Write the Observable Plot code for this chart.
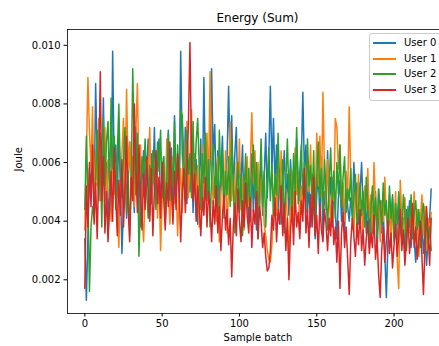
<!DOCTYPE html>
<html><head><meta charset="utf-8">
<script src="https://cdn.jsdelivr.net/npm/d3@7"></script>
<script src="https://cdn.jsdelivr.net/npm/@observablehq/plot@0.6"></script>
<style>
html,body{margin:0;padding:0;overflow:hidden;background:#fff;}
body{font-family:"DejaVu Sans",sans-serif;color:#000;}
#wrap{position:relative;width:448px;height:346px;}
#title{box-sizing:border-box;height:25px;padding:11px 0 0 67px;font-size:12px;line-height:14px;text-align:center;white-space:nowrap;}
#chart svg{display:block;overflow:visible;}
#legend{position:absolute;left:369px;top:33px;width:74px;height:68px;box-sizing:border-box;border:1px solid #cccccc;border-radius:3px;background:rgba(255,255,255,0.8);}
.row{position:absolute;left:3px;height:14px;font-size:10px;line-height:14px;white-space:nowrap;}
.sw{position:absolute;left:0;top:6px;width:23px;height:2px;}
.lab{position:absolute;left:31px;top:0;}
</style></head><body>
<div id="wrap">
<div id="title">Energy (Sum)</div>
<div id="chart"></div>
<div id="legend"></div>
</div>
<script>
const users = ["User 0", "User 1", "User 2", "User 3"];
const colors = ["#1f77b4", "#ff7f0e", "#2ca02c", "#d62728"];
const xTicks = [0, 50, 100, 150, 200];
const yTicks = [0.002, 0.004, 0.006, 0.008, 0.010];

const user0 = [
.0034,.0013,.0035,.0058,.0052,.0061,.0045,.0087,.0062,.0049,.0070,.0055,.0082,.0047,.0060,
.0039,.0052,.0044,.0098,.0058,.0066,.0048,.0071,.0053,.0029,.0045,.0062,.0041,.0055,.0067,
.0050,.0058,.0043,.0072,.0049,.0061,.0038,.0054,.0064,.0046,.0058,.0068,.0042,.0063,.0053,
.0072,.0047,.0059,.0068,.0044,.0057,.0062,.0039,.0050,.0071,.0048,.0065,.0041,.0076,.0052,
.0060,.0045,.0098,.0063,.0052,.0072,.0046,.0058,.0050,.0066,.0043,.0056,.0061,.0039,.0052,
.0068,.0047,.0089,.0056,.0065,.0048,.0059,.0092,.0061,.0073,.0050,.0064,.0044,.0057,.0069,
.0046,.0055,.0062,.0086,.0058,.0076,.0049,.0063,.0072,.0045,.0060,.0053,.0066,.0041,.0056,
.0049,.0040,.0054,.0063,.0043,.0058,.0037,.0052,.0046,.0060,.0042,.0055,.0070,.0048,.0062,
.0086,.0057,.0075,.0052,.0066,.0044,.0058,.0039,.0053,.0064,.0047,.0056,.0042,.0061,.0050,
.0057,.0045,.0068,.0054,.0047,.0060,.0084,.0057,.0066,.0043,.0052,.0038,.0056,.0045,.0034,
.0049,.0056,.0041,.0062,.0035,.0050,.0044,.0064,.0047,.0055,.0038,.0051,.0043,.0034,.0048,
.0054,.0040,.0049,.0036,.0052,.0045,.0040,.0048,.0042,.0060,.0046,.0053,.0039,.0050,.0060,
.0044,.0051,.0036,.0047,.0041,.0033,.0045,.0038,.0050,.0031,.0042,.0047,.0036,.0044,.0029,
.0014,.0032,.0044,.0037,.0049,.0034,.0042,.0030,.0046,.0038,.0033,.0041,.0028,.0044,.0036,
.0047,.0031,.0040,.0034,.0026,.0038,.0043,.0032,.0039,.0029,.0036,.0025,.0034,.0041,.0051];

const user1 = [
.0037,.0062,.0089,.0071,.0058,.0079,.0045,.0064,.0052,.0075,.0047,.0068,.0056,.0072,.0043,
.0061,.0053,.0040,.0066,.0049,.0058,.0044,.0031,.0052,.0063,.0075,.0048,.0085,.0057,.0067,
.0050,.0062,.0045,.0070,.0087,.0054,.0066,.0042,.0033,.0049,.0061,.0055,.0072,.0046,.0058,
.0052,.0064,.0041,.0055,.0030,.0047,.0059,.0044,.0068,.0051,.0039,.0056,.0062,.0046,.0053,
.0035,.0049,.0058,.0043,.0067,.0052,.0074,.0048,.0060,.0078,.0054,.0063,.0045,.0059,.0038,
.0051,.0066,.0044,.0057,.0070,.0052,.0091,.0061,.0046,.0055,.0040,.0062,.0033,.0049,.0058,
.0043,.0064,.0036,.0052,.0074,.0047,.0056,.0041,.0060,.0050,.0068,.0044,.0055,.0037,.0051,
.0062,.0045,.0058,.0077,.0053,.0064,.0048,.0060,.0042,.0055,.0050,.0039,.0035,.0030,.0027,
.0026,.0032,.0045,.0056,.0042,.0060,.0048,.0064,.0053,.0038,.0051,.0041,.0027,.0046,.0057,
.0040,.0065,.0049,.0056,.0036,.0052,.0043,.0058,.0047,.0062,.0050,.0066,.0042,.0055,.0046,
.0070,.0052,.0069,.0048,.0084,.0057,.0044,.0061,.0050,.0038,.0055,.0047,.0075,.0072,.0058,
.0066,.0045,.0053,.0040,.0057,.0048,.0079,.0054,.0046,.0036,.0050,.0043,.0056,.0039,.0047,
.0034,.0052,.0044,.0058,.0041,.0049,.0036,.0060,.0045,.0038,.0051,.0033,.0047,.0040,.0055,
.0042,.0036,.0049,.0031,.0045,.0038,.0050,.0027,.0017,.0054,.0041,.0034,.0048,.0030,.0043,
.0036,.0047,.0039,.0050,.0033,.0044,.0028,.0040,.0049,.0035,.0045,.0030,.0041,.0036,.0043];

const user2 = [
.0044,.0069,.0050,.0016,.0038,.0045,.0041,.0055,.0071,.0047,.0062,.0038,.0075,.0052,.0067,
.0074,.0049,.0082,.0058,.0069,.0044,.0063,.0080,.0055,.0048,.0061,.0072,.0043,.0057,.0035,
.0052,.0092,.0064,.0049,.0070,.0028,.0047,.0062,.0055,.0068,.0050,.0041,.0059,.0046,.0064,
.0052,.0044,.0067,.0057,.0071,.0048,.0062,.0043,.0054,.0070,.0047,.0060,.0052,.0074,.0049,
.0066,.0054,.0078,.0076,.0062,.0047,.0071,.0056,.0063,.0048,.0074,.0052,.0067,.0075,.0058,
.0044,.0063,.0053,.0070,.0047,.0061,.0038,.0055,.0066,.0048,.0059,.0043,.0071,.0052,.0064,
.0041,.0057,.0049,.0062,.0045,.0068,.0054,.0036,.0051,.0060,.0043,.0056,.0035,.0050,.0063,
.0045,.0058,.0040,.0054,.0066,.0048,.0060,.0034,.0052,.0068,.0045,.0057,.0038,.0053,.0065,
.0047,.0059,.0042,.0056,.0049,.0070,.0052,.0044,.0061,.0036,.0054,.0068,.0048,.0058,.0041,
.0063,.0050,.0072,.0046,.0057,.0066,.0049,.0060,.0043,.0068,.0052,.0059,.0046,.0064,.0040,
.0055,.0067,.0048,.0058,.0044,.0061,.0050,.0037,.0053,.0065,.0047,.0057,.0041,.0060,.0049,
.0066,.0045,.0055,.0062,.0043,.0051,.0047,.0058,.0040,.0049,.0056,.0036,.0045,.0053,.0042,
.0050,.0038,.0055,.0046,.0031,.0044,.0052,.0040,.0048,.0035,.0051,.0045,.0039,.0053,.0042,
.0047,.0036,.0052,.0041,.0048,.0033,.0046,.0039,.0050,.0042,.0035,.0049,.0043,.0030,.0045,
.0038,.0049,.0034,.0043,.0047,.0037,.0044,.0031,.0042,.0046,.0035,.0040,.0032,.0038,.0030];

const user3 = [
.0017,.0052,.0038,.0060,.0045,.0066,.0039,.0053,.0034,.0058,.0091,.0047,.0062,.0036,.0050,
.0033,.0044,.0057,.0040,.0065,.0048,.0035,.0054,.0042,.0061,.0038,.0052,.0069,.0045,.0033,
.0055,.0047,.0080,.0059,.0043,.0066,.0050,.0037,.0056,.0044,.0062,.0049,.0040,.0058,.0035,
.0051,.0064,.0046,.0055,.0041,.0060,.0048,.0037,.0053,.0045,.0067,.0050,.0039,.0057,.0044,
.0063,.0052,.0033,.0049,.0058,.0043,.0055,.0074,.0101,.0062,.0047,.0056,.0040,.0052,.0045,
.0035,.0048,.0042,.0055,.0038,.0050,.0044,.0033,.0047,.0039,.0052,.0036,.0045,.0030,.0042,
.0049,.0037,.0044,.0032,.0041,.0021,.0038,.0046,.0035,.0051,.0040,.0033,.0047,.0038,.0053,
.0042,.0036,.0048,.0031,.0044,.0039,.0050,.0034,.0045,.0040,.0031,.0036,.0028,.0023,.0024,
.0030,.0042,.0037,.0048,.0033,.0044,.0039,.0052,.0035,.0046,.0030,.0041,.0020,.0036,.0045,
.0032,.0050,.0038,.0043,.0034,.0047,.0040,.0058,.0036,.0044,.0031,.0049,.0038,.0055,.0035,
.0042,.0029,.0046,.0037,.0033,.0044,.0039,.0030,.0041,.0035,.0047,.0032,.0038,.0026,.0040,
.0017,.0036,.0043,.0031,.0038,.0027,.0015,.0033,.0041,.0035,.0028,.0039,.0032,.0044,.0030,
.0037,.0025,.0034,.0040,.0029,.0036,.0031,.0042,.0027,.0034,.0022,.0014,.0030,.0038,.0026,
.0033,.0040,.0029,.0036,.0024,.0032,.0039,.0028,.0035,.0044,.0030,.0037,.0025,.0034,.0041,
.0029,.0036,.0046,.0031,.0038,.0027,.0034,.0040,.0028,.0015,.0032,.0045,.0036,.0025,.0041];

const series = [user0, user1, user2, user3];
const rows = [];
series.forEach((vals, s) => vals.forEach((v, i) => rows.push({batch: i, joule: v, user: users[s]})));

const chart = Plot.plot({
  width: 448,
  height: 321,
  marginTop: 4,
  marginBottom: 33,
  marginLeft: 67,
  marginRight: 0,
  style: {fontFamily: "DejaVu Sans, sans-serif", fontSize: "10px", color: "#000", background: "transparent"},
  x: {domain: [-11.2, 235.2]},
  y: {domain: [0.00085, 0.01054]},
  color: {domain: users, range: colors},
  marks: [
    Plot.line(rows, {x: "batch", y: "joule", z: "user", stroke: "user", strokeWidth: 1.5, strokeLinejoin: "round"}),
    Plot.frame({stroke: "#000", strokeWidth: 0.8}),
    Plot.axisX({ticks: xTicks, tickFormat: d => String(d), tickSize: 3.5, tickPadding: 3, label: null, fontSize: 10}),
    Plot.axisY({ticks: yTicks, tickFormat: d3.format(".3f"), tickSize: 3.5, tickPadding: 3.5, label: null, fontSize: 10}),
    Plot.text(["Sample batch"], {frameAnchor: "bottom", dy: 27, fontSize: 10}),
    Plot.text(["Joule"], {frameAnchor: "left", dx: -49, rotate: -90, fontSize: 10})
  ]
});
document.getElementById("chart").appendChild(chart);

const legend = document.getElementById("legend");
users.forEach((u, k) => {
  const r = document.createElement("div");
  r.className = "row";
  r.style.top = (2 + k * 15.5) + "px";
  const sw = document.createElement("div");
  sw.className = "sw";
  sw.style.background = colors[k];
  const lab = document.createElement("div");
  lab.className = "lab";
  lab.textContent = u;
  r.appendChild(sw);
  r.appendChild(lab);
  legend.appendChild(r);
});
</script>
</body></html>
